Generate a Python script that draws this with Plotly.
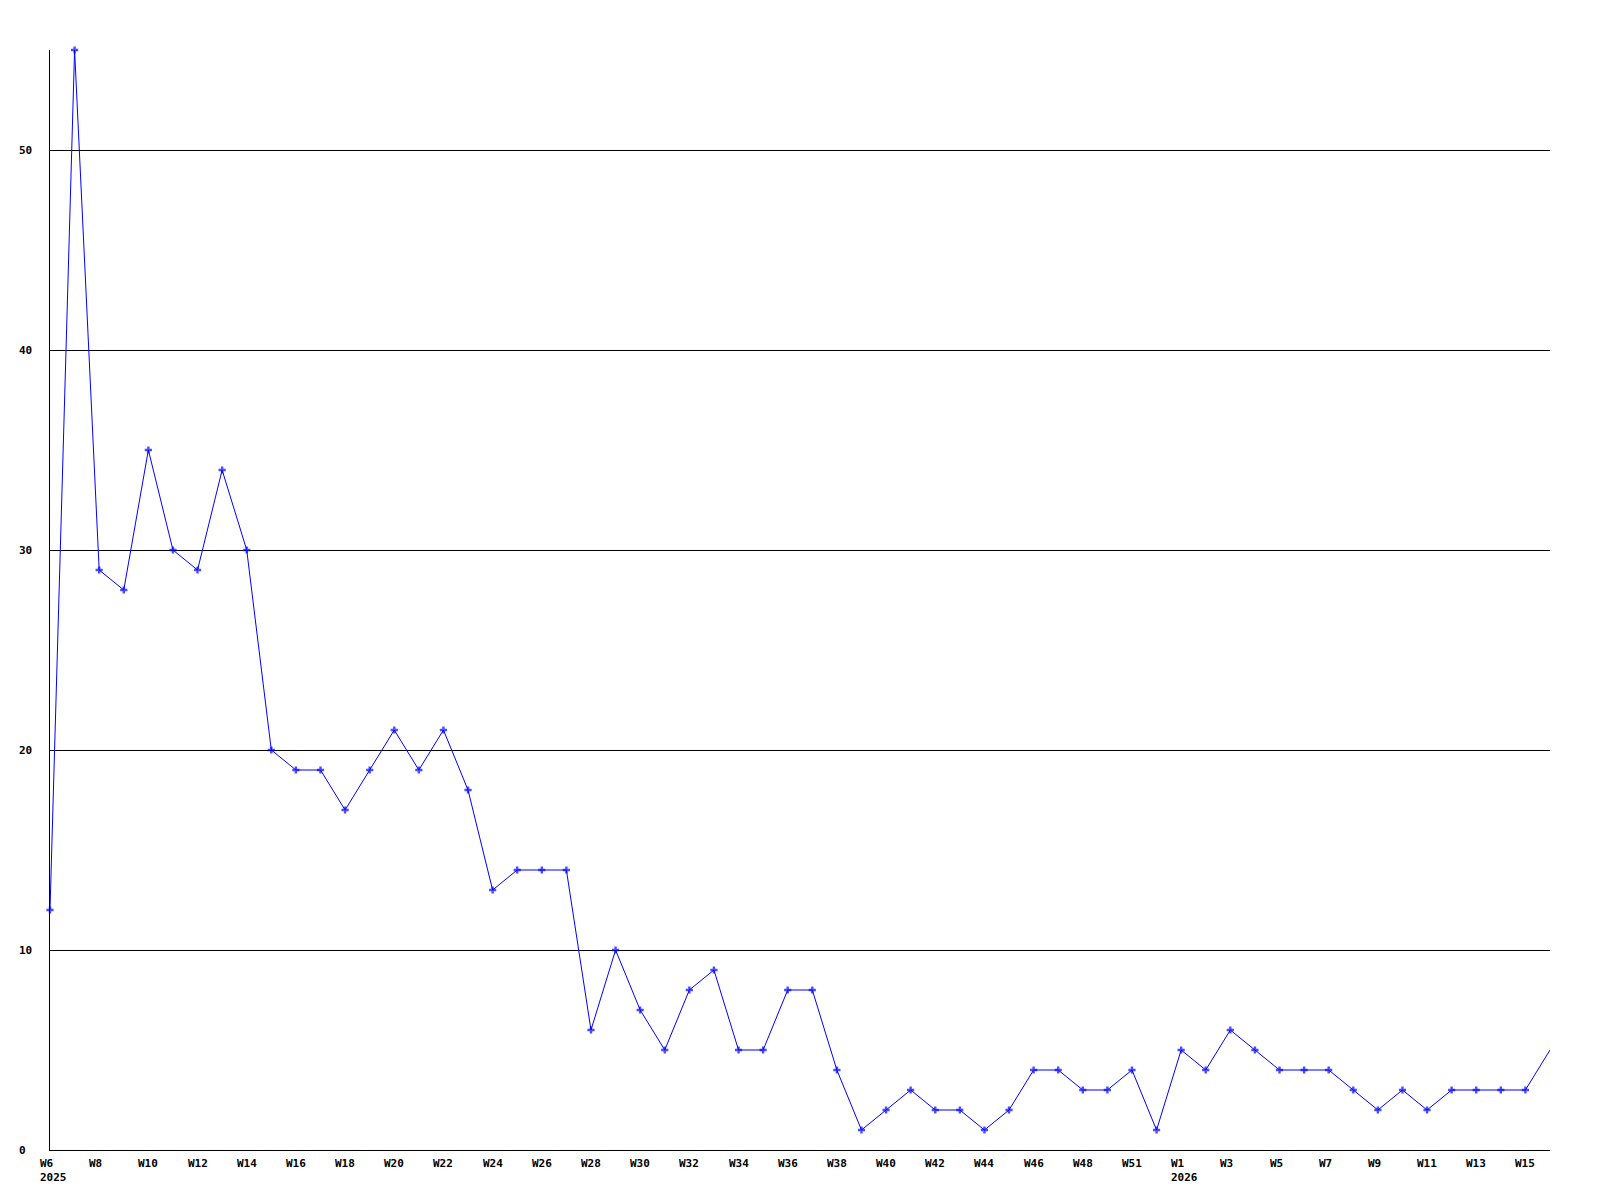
import plotly.graph_objects as go

# ---- data ----
years = ["2025"] * 46 + ["2026"] * 16
weeks = ["W6", "W7", "W8", "W9", "W10", "W11", "W12", "W13", "W14", "W15",
         "W16", "W17", "W18", "W19", "W20", "W21", "W22", "W23", "W24", "W25",
         "W26", "W27", "W28", "W29", "W30", "W31", "W32", "W33", "W34", "W35",
         "W36", "W37", "W38", "W39", "W40", "W41", "W42", "W43", "W44", "W45",
         "W46", "W47", "W48", "W49", "W51", "W52",
         "W1", "W2", "W3", "W4", "W5", "W6", "W7", "W8", "W9", "W10",
         "W11", "W12", "W13", "W14", "W15", "W16"]
values = [12, 55, 29, 28, 35, 30, 29, 34, 30, 20,
          19, 19, 17, 19, 21, 19, 21, 18, 13, 14,
          14, 14, 6, 10, 7, 5, 8, 9, 5, 5,
          8, 8, 4, 1, 2, 3, 2, 2, 1, 2,
          4, 4, 3, 3, 4, 1,
          5, 4, 6, 5, 4, 4, 4, 3, 2, 3,
          2, 3, 3, 3, 3, 5]
y_ticks = [0, 10, 20, 30, 40, 50]

x = list(range(len(values)))

FONT = dict(family="DejaVu Sans Mono", size=11, color="#000000", weight="bold")

marker_sizes = [6] * (len(values) - 1) + [0]

fig = go.Figure()
fig.add_trace(go.Scatter(
    x=x, y=values, mode="lines+markers",
    line=dict(color="#0000FF", width=1),
    marker=dict(symbol="cross", size=marker_sizes, color="#0000FF", line=dict(width=0)),
    cliponaxis=False, showlegend=False, hoverinfo="skip",
))

annotations = []
prev_year = None
for i in x:
    if i % 2 == 0:
        annotations.append(dict(
            x=i, y=0, xref="x", yref="paper", text=weeks[i],
            xanchor="left", yanchor="top", xshift=-12, yshift=-5,
            showarrow=False, font=FONT,
        ))
    if years[i] != prev_year:
        annotations.append(dict(
            x=i, y=0, xref="x", yref="paper", text=years[i],
            xanchor="left", yanchor="top", xshift=-12, yshift=-19,
            showarrow=False, font=FONT,
        ))
        prev_year = years[i]

for v in y_ticks:
    annotations.append(dict(
        x=0, y=v, xref="paper", yref="y", text=str(v),
        xanchor="left", yanchor="middle", xshift=-33,
        showarrow=False, font=FONT,
    ))

fig.update_layout(
    width=1600, height=1200,
    margin=dict(l=42, r=58, t=42, b=58),
    paper_bgcolor="#FFFFFF", plot_bgcolor="#FFFFFF",
    annotations=annotations,
    xaxis=dict(range=[0, len(values) - 1], showgrid=False, zeroline=False,
               showline=True, linecolor="#000000", linewidth=1,
               showticklabels=False, ticks=""),
    yaxis=dict(range=[0, 55], tickvals=y_ticks, showgrid=True,
               gridcolor="#000000", gridwidth=1, zeroline=False,
               showline=True, linecolor="#000000", linewidth=1,
               showticklabels=False, ticks=""),
)

fig.write_html("out.html")
